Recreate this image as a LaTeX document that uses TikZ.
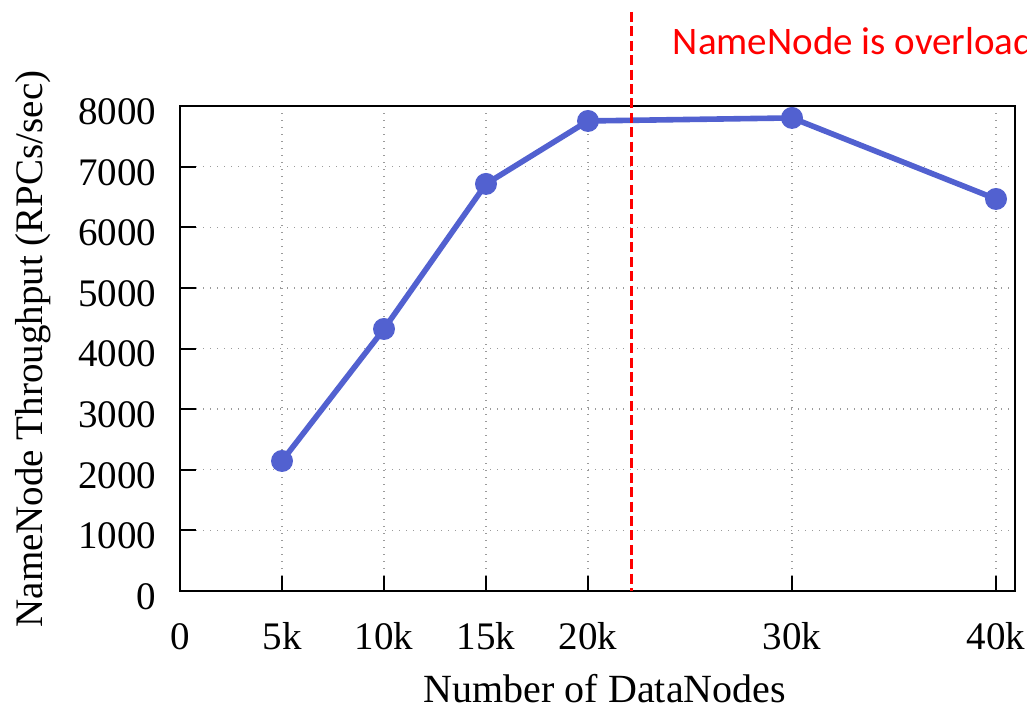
\documentclass[tikz,border=0pt]{standalone}
\usepackage{fontspec}
\setmainfont{Liberation Serif}
\newfontfamily\calibrilike{Carlito}
\usetikzlibrary{positioning}
\definecolor{lineblue}{RGB}{82,97,208}
\definecolor{gridgray}{RGB}{155,155,155}

\begin{document}
\begin{tikzpicture}[x=5.1pt, y=0.015156pt,
  every node/.style={inner sep=0pt, font=\fontsize{9.75}{11}\selectfont},
  gridline/.style={gridgray, line width=0.35pt, dash pattern=on 0.35pt off 1.4pt},
  tickmark/.style={line width=0.5pt}]
  \clip (-45pt,-30.5pt) rectangle (211.75pt,147.75pt);
  % grid and ticks
  \foreach \y in {1000,2000,...,7000} {
    \draw[gridline] (0,\y) ++(4pt,0) -- (40.95,\y);
    \draw[tickmark] (0,\y) -- ++(4pt,0);
  }
  \foreach \x in {5,10,15,20,30,40} {
    \draw[gridline] (\x,0) ++(0,3.75pt) -- (\x,8000);
    \draw[tickmark] (\x,0) -- ++(0,3.75pt);
  }
  \draw[line width=0.5pt] (0,0) rectangle (40.95,8000);
  % tick labels
  \foreach \y in {0,1000,...,8000}
    \node[anchor=base east, xshift=-5.75pt, yshift=-4.6pt] (ylab\y) at (0,\y) {\y};
  \foreach \x/\t in {0/0, 5/5k, 10/10k, 15/15k, 20/20k, 30/30k, 40/40k}
    \node[anchor=base, yshift=-14.75pt] (xlab\x) at (\x,0) {\t};
  \node[anchor=base, font=\fontsize{10}{12}\selectfont] (xtitle) at (106.25pt,-28pt) {Number of DataNodes};
  \node[anchor=base, rotate=90] (ytitle) at (-34.25pt,60.5pt) {NameNode Throughput (RPCs/sec)};
  % measured throughput
  \coordinate (p5) at (5,2145);
  \coordinate (p10) at (10,4323);
  \coordinate (p15) at (15,6716);
  \coordinate (p20) at (20,7755);
  \coordinate (p30) at (30,7805);
  \coordinate (p40) at (40,6468);
  \draw[lineblue, line width=1.4pt, line join=round] (p5) -- (p10) -- (p15) -- (p20) -- (p30) -- (p40);
  \foreach \p in {p5,p10,p15,p20,p30,p40} {
    \fill[lineblue] (\p) circle (2.75pt);
  }
  % overload marker
  \coordinate (cutTop) at (112.75pt,144.75pt);
  \coordinate (cutBot) at (112.75pt,0);
  \draw[red, line width=0.75pt, dash pattern=on 2.5pt off 1.1pt] (cutTop) -- (cutBot);
  \node[red, anchor=base west, font=\calibrilike\fontsize{9.75}{11}\selectfont] (overload) at (123pt,134pt) {NameNode is overloaded};
\end{tikzpicture}
\end{document}
